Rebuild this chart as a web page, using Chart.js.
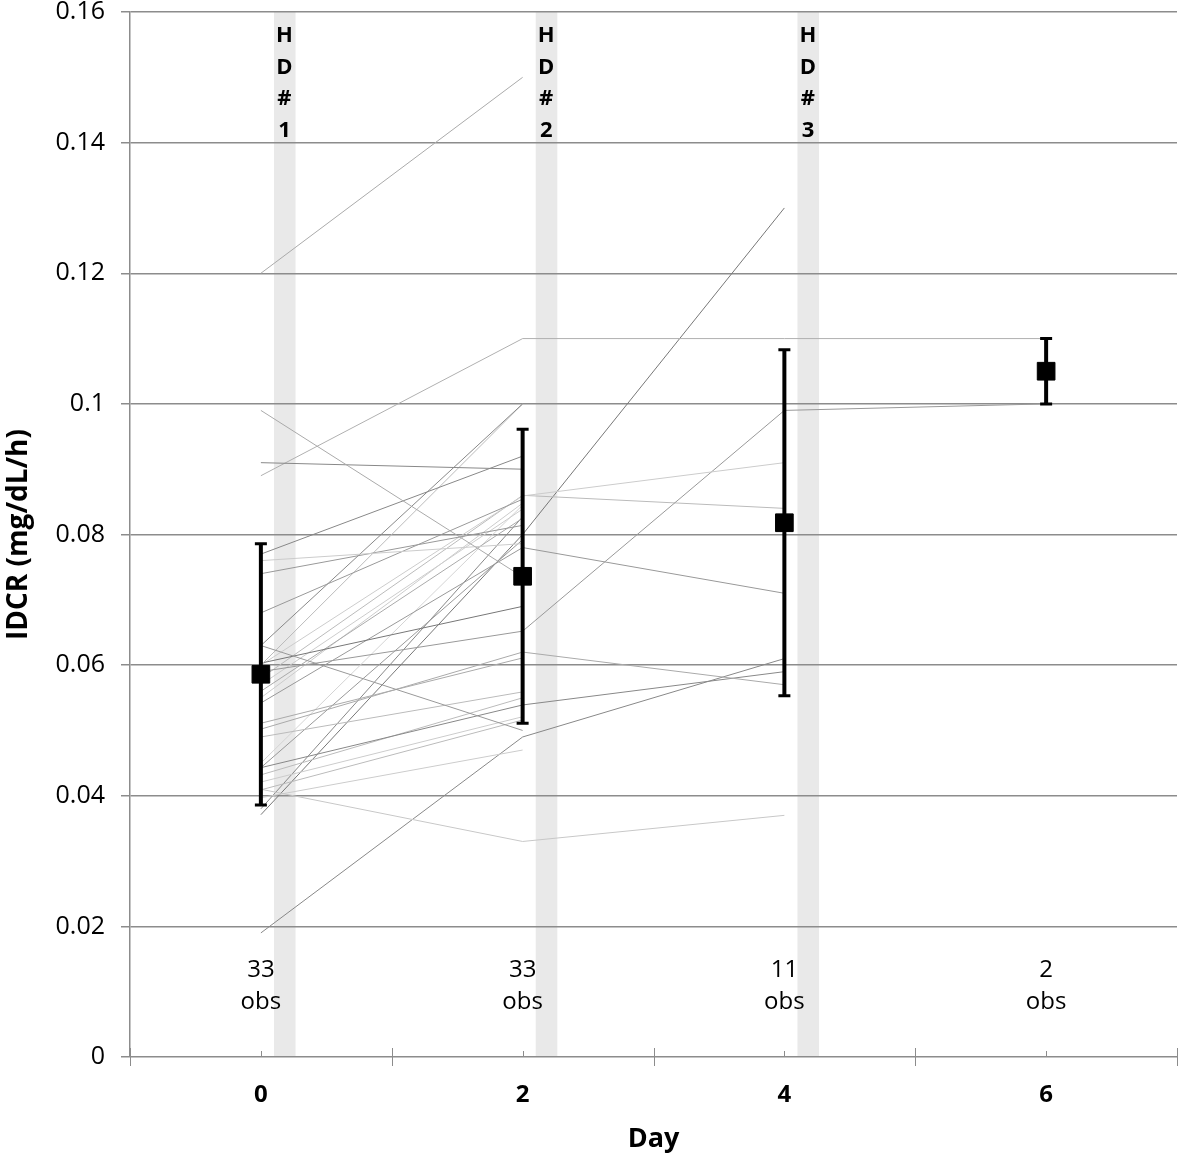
<!DOCTYPE html>
<html>
<head>
<meta charset="utf-8">
<script src="https://cdn.jsdelivr.net/npm/chart.js@4.4.1/dist/chart.umd.min.js"></script>
<style>
  html, body { margin: 0; padding: 0; background: #fff; }
  #wrap { width: 1181px; height: 1158px; }
</style>
</head>
<body>
<div id="wrap"><canvas id="chart"></canvas></div>
<script>
// IDCR per patient over days, with mean +/- SD

const days = [0, 2, 4, 6];
const dayTickLabels = ['0', '2', '4', '6'];
const obsCounts = ['33', '33', '11', '2'];
const hdDays = [0, 2, 4];
const hdNames = ['1', '2', '3'];

// one entry per patient (33); null = no observation that day
const day0Vals = [0.120, 0.099, 0.091, 0.089, 0.077, 0.076, 0.074, 0.068, 0.063, 0.063, 0.060,
                  0.0603, 0.060, 0.059, 0.058, 0.057, 0.056, 0.055, 0.0542, 0.0511, 0.0502, 0.049,
                  0.0443, 0.0443, 0.0432, 0.0421, 0.0409, 0.041, 0.0397, 0.038, 0.0371, 0.019, 0.045];
const day2Vals = [0.150, 0.0735, 0.090, 0.110, 0.092, 0.0786, 0.0814, 0.0854, 0.100, 0.050, 0.100,
                  0.069, 0.0859, 0.0652, 0.086, 0.0839, 0.0825, 0.0848, 0.078, 0.0611, 0.062, 0.0559,
                  0.0792, 0.0539, 0.055, 0.0521, 0.0516, 0.033, 0.047, 0.0827, 0.080, 0.049, 0.0845];
const day4Vals = [null, null, null, 0.110, null, null, null, null, null, null, null,
                  null, 0.091, 0.099, 0.084, null, null, null, 0.071, null, 0.057, null,
                  null, 0.059, null, null, null, 0.037, null, null, 0.130, 0.061, null];
const day6Vals = [null, null, null, 0.110, null, null, null, null, null, null, null,
                  null, null, 0.100, null, null, null, null, null, null, null, null,
                  null, null, null, null, null, null, null, null, null, null, null];

const meanVals = [0.0586, 0.0736, 0.0818, 0.105];
const sdVals = [0.0200, 0.0225, 0.0265, 0.0050];

// grey shade of each patient line
const lineShades = ['#aaa', '#aaa', '#888', '#b0b0b0', '#888', '#ccc', '#999', '#999', '#888', '#999', '#bbb',
                    '#777', '#ccc', '#999', '#bbb', '#ccc', '#aaa', '#ccc', '#999', '#aaa', '#aaa', '#bbb',
                    '#999', '#888', '#bbb', '#ccc', '#bbb', '#c8c8c8', '#ccc', '#888', '#777', '#888', '#d4d4d4'];

const GRID = '#8c8c8c';
const FONT = "'Open Sans', 'DejaVu Sans', sans-serif";

const patientSets = day0Vals.map((v0, i) => {
    const vals = [v0, day2Vals[i], day4Vals[i], day6Vals[i]];
    const pts = [];
    vals.forEach((v, k) => { if (v !== null) pts.push({ x: days[k], y: v }); });
    return {
        data: pts,
        borderColor: lineShades[i],
        borderWidth: 1,
        pointRadius: 0,
        fill: false,
        tension: 0
    };
});

const meanSet = {
    data: days.map((d, k) => ({ x: d, y: meanVals[k] })),
    showLine: false,
    pointStyle: 'rect',
    pointRadius: 12.5,
    pointBackgroundColor: '#000',
    pointBorderColor: '#000',
    pointBorderWidth: 1
};

// --- decorations: HD bands, labels, error bars, axis ticks ---
const decor = {
    id: 'decor',
    beforeDraw(chart) {
        const { ctx, chartArea, scales: { x } } = chart;
        ctx.save();
        ctx.fillStyle = '#e9e9e9';
        hdDays.forEach(d => {
            const l = x.getPixelForValue(d + 0.1);
            const r = x.getPixelForValue(d + 0.265);
            ctx.fillRect(l, chartArea.top, r - l, chartArea.bottom - chartArea.top);
        });
        ctx.restore();
    },
    beforeDatasetDraw(chart, args) {
        if (args.index !== 0) return;
        const { ctx, scales: { x, y } } = chart;
        ctx.save();
        ctx.strokeStyle = '#000';
        days.forEach((d, k) => {
            const px = x.getPixelForValue(d);
            const top = y.getPixelForValue(meanVals[k] + sdVals[k]);
            const bot = y.getPixelForValue(meanVals[k] - sdVals[k]);
            ctx.lineWidth = 4;
            ctx.beginPath();
            ctx.moveTo(px, top);
            ctx.lineTo(px, bot);
            ctx.stroke();
            ctx.lineWidth = 3;
            ctx.beginPath();
            ctx.moveTo(px - 6, top); ctx.lineTo(px + 6, top);
            ctx.moveTo(px - 6, bot); ctx.lineTo(px + 6, bot);
            ctx.stroke();
        });
        ctx.restore();
    },
    afterDraw(chart) {
        const { ctx, chartArea, scales: { x } } = chart;
        ctx.save();
        // x-axis tick marks
        ctx.strokeStyle = GRID;
        ctx.lineWidth = 1;
        const ay = chartArea.bottom;
        for (let v = -1; v <= 7; v++) {
            const px = Math.round(x.getPixelForValue(v)) + 0.5;
            ctx.beginPath();
            if (v % 2 !== 0) { ctx.moveTo(px, ay - 9); ctx.lineTo(px, ay + 9); }
            else { ctx.moveTo(px, ay - 6); ctx.lineTo(px, ay); }
            ctx.stroke();
        }
        // HD labels
        ctx.fillStyle = '#000';
        ctx.textAlign = 'center';
        ctx.textBaseline = 'middle';
        ctx.font = 'bold 22px ' + FONT;
        hdDays.forEach((d, k) => {
            const px = x.getPixelForValue(d + 0.18);
            ['H', 'D', '#', hdNames[k]].forEach((ch, j) => {
                ctx.fillText(ch, px, chartArea.top + 24 + j * 31.5);
            });
        });
        // obs counts
        ctx.font = '24px ' + FONT;
        days.forEach((d, k) => {
            const px = x.getPixelForValue(d);
            ctx.fillText(obsCounts[k], px, ay - 87);
            ctx.fillText('obs', px, ay - 55);
        });
        ctx.restore();
    }
};

new Chart(document.getElementById('chart'), {
    type: 'line',
    data: { datasets: [meanSet, ...patientSets] },
    plugins: [decor],
    options: {
        responsive: true,
        maintainAspectRatio: false,
        animation: false,
        layout: { autoPadding: false, padding: { top: 12, right: 4, left: 0, bottom: 0 } },
        plugins: { legend: { display: false }, tooltip: { enabled: false } },
        scales: {
            x: {
                type: 'linear',
                min: -1,
                max: 7,
                afterFit: s => { s.height = 101; s.paddingLeft = 0; s.paddingRight = 0; },
                grid: { display: false, drawTicks: false },
                border: { display: false },
                ticks: {
                    stepSize: 1,
                    autoSkip: false,
                    maxRotation: 0,
                    padding: 24,
                    color: '#000',
                    font: { family: FONT, size: 24, weight: 'bold' },
                    callback: v => (days.includes(v) ? dayTickLabels[days.indexOf(v)] : '')
                },
                title: {
                    display: true,
                    text: 'Day',
                    color: '#000',
                    padding: { top: 0, bottom: 2 },
                    font: { family: FONT, size: 27, weight: 'bold' }
                }
            },
            y: {
                min: 0,
                max: 0.16,
                afterFit: s => { s.width = 130; s.paddingTop = 0; s.paddingBottom = 0; },
                grid: { color: GRID, lineWidth: 1.5, tickLength: 9 },
                border: { display: true, color: GRID, width: 1.5 },
                ticks: {
                    stepSize: 0.02,
                    padding: 16,
                    color: '#000',
                    font: { family: FONT, size: 25 },
                    callback: v => String(+v.toFixed(2))
                },
                title: {
                    display: true,
                    text: 'IDCR (mg/dL/h)',
                    color: '#000',
                    padding: { top: 2, bottom: 0 },
                    font: { family: FONT, size: 28, weight: 'bold' }
                }
            }
        }
    }
});
</script>
</body>
</html>
